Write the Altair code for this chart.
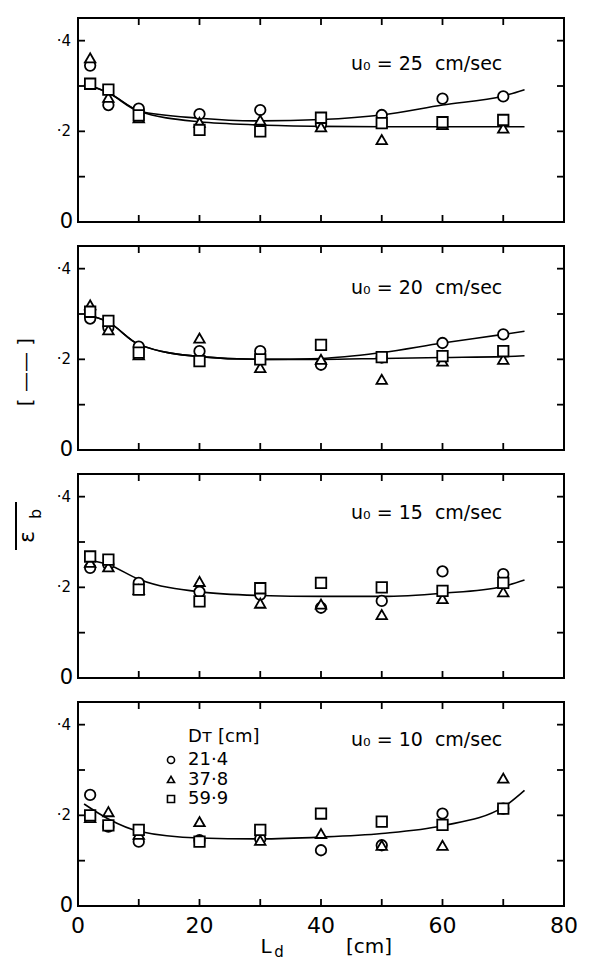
import altair as alt
import pandas as pd

FONT = "DejaVu Sans"

# ---------------- data ----------------
SERIES = ["21·4", "37·8", "59·9"]          # D_T [cm]
SHAPES = ["circle", "triangle-up", "square"]
LD = [2, 5, 10, 20, 30, 40, 50, 60, 70]    # L_d [cm]
U0 = [25, 20, 15, 10]                      # u0 [cm/sec]

# eps_b values, u0 = 25
E25_C = [0.345, 0.258, 0.250, 0.238, 0.247, 0.215, 0.236, 0.272, 0.277]
E25_T = [0.362, 0.275, 0.230, 0.220, 0.225, 0.210, 0.182, 0.215, 0.207]
E25_S = [0.305, 0.292, 0.235, 0.203, 0.200, 0.230, 0.218, 0.220, 0.225]
# u0 = 20
E20_C = [0.290, 0.270, 0.228, 0.218, 0.218, 0.188, 0.204, 0.236, 0.255]
E20_T = [0.320, 0.265, 0.210, 0.247, 0.182, 0.200, 0.156, 0.196, 0.200]
E20_S = [0.305, 0.285, 0.215, 0.196, 0.200, 0.232, 0.205, 0.207, 0.218]
# u0 = 15
E15_C = [0.243, 0.250, 0.210, 0.190, 0.184, 0.155, 0.170, 0.235, 0.229]
E15_T = [0.255, 0.245, 0.195, 0.213, 0.165, 0.163, 0.140, 0.175, 0.190]
E15_S = [0.268, 0.261, 0.195, 0.169, 0.198, 0.210, 0.200, 0.192, 0.210]
# u0 = 10
E10_C = [0.245, 0.175, 0.142, 0.145, 0.148, 0.123, 0.134, 0.204, 0.215]
E10_T = [0.195, 0.208, 0.158, 0.186, 0.145, 0.160, 0.134, 0.134, 0.282]
E10_S = [0.200, 0.178, 0.168, 0.142, 0.168, 0.204, 0.186, 0.179, 0.215]

# fitted curves
CURVE_LD = [1, 5, 10, 20, 30, 40, 50, 60, 70, 73.5]
C25_UP = [0.305, 0.285, 0.245, 0.229, 0.223, 0.226, 0.236, 0.258, 0.278, 0.292]
C25_LO = [0.305, 0.285, 0.245, 0.221, 0.214, 0.211, 0.210, 0.210, 0.210, 0.210]
C20_UP = [0.300, 0.282, 0.233, 0.206, 0.200, 0.202, 0.215, 0.236, 0.255, 0.262]
C20_LO = [0.300, 0.282, 0.233, 0.206, 0.200, 0.200, 0.202, 0.204, 0.206, 0.208]
C15 = [0.262, 0.250, 0.218, 0.190, 0.182, 0.180, 0.180, 0.187, 0.202, 0.216]
C10 = [0.225, 0.192, 0.165, 0.150, 0.148, 0.152, 0.160, 0.177, 0.218, 0.255]

# ticks and tick labels
X_INNER_TICKS = [10, 20, 30, 40, 50, 60, 70]
Y_INNER_TICKS = [0.1, 0.2, 0.3, 0.4]
X_LABEL_VALUES = [0, 20, 40, 60, 80]
X_LABEL_TEXT = ["0", "20", "40", "60", "80"]
Y_ZERO_VALUE = [0]
Y_ZERO_TEXT = ["0"]
Y_LABEL_VALUES = [0.2, 0.4]
Y_LABEL_TEXT = ["·2", "·4"]

X_DOMAIN = [0, 80]
Y_DOMAIN = [0, 0.45]
W, H = 486, 204
TL = 7  # inner tick length in pixels


def xs():
    return alt.Scale(domain=X_DOMAIN, nice=False, zero=False)


def ys():
    return alt.Scale(domain=Y_DOMAIN, nice=False, zero=False)


def text_layer(txt, x, y, size, angle=0, align="center"):
    return alt.Chart(pd.DataFrame({"t": [txt]})).mark_text(
        font=FONT, fontSize=size, color="black", angle=angle,
        align=align, baseline="middle").encode(
        text="t:N", x=alt.value(x), y=alt.value(y))


def tick_layer():
    # inner tick segments, drawn as two-point lines through the scales
    dx = TL / W * (X_DOMAIN[1] - X_DOMAIN[0])
    dy = TL / H * (Y_DOMAIN[1] - Y_DOMAIN[0])
    rows = []
    for v in X_INNER_TICKS:
        rows += [{"id": f"t{v}", "x": v, "y": Y_DOMAIN[1]},
                 {"id": f"t{v}", "x": v, "y": Y_DOMAIN[1] - dy},
                 {"id": f"b{v}", "x": v, "y": Y_DOMAIN[0]},
                 {"id": f"b{v}", "x": v, "y": Y_DOMAIN[0] + dy}]
    for v in Y_INNER_TICKS:
        rows += [{"id": f"l{v}", "x": X_DOMAIN[0], "y": v},
                 {"id": f"l{v}", "x": X_DOMAIN[0] + dx, "y": v},
                 {"id": f"r{v}", "x": X_DOMAIN[1] - dx, "y": v},
                 {"id": f"r{v}", "x": X_DOMAIN[1], "y": v}]
    return alt.Chart(pd.DataFrame(rows)).mark_line(
        color="black", strokeWidth=1.8, strokeCap="butt").encode(
        x=alt.X("x:Q", scale=xs(), axis=None),
        y=alt.Y("y:Q", scale=ys(), axis=None),
        detail="id:N")


def ylabel_layers():
    d0 = pd.DataFrame({"v": Y_ZERO_VALUE, "t": Y_ZERO_TEXT})
    d1 = pd.DataFrame({"v": Y_LABEL_VALUES, "t": Y_LABEL_TEXT})
    zero = alt.Chart(d0).mark_text(font=FONT, fontSize=21, color="black", align="right",
                                   baseline="middle").encode(
        y=alt.Y("v:Q", scale=ys(), axis=None), x=alt.value(-5), text="t:N")
    other = alt.Chart(d1).mark_text(font=FONT, fontSize=15, color="black", align="right",
                                    baseline="middle").encode(
        y=alt.Y("v:Q", scale=ys(), axis=None), x=alt.value(-7), text="t:N")
    return [zero, other]


def xlabel_layer():
    d = pd.DataFrame({"v": X_LABEL_VALUES, "t": X_LABEL_TEXT})
    return alt.Chart(d).mark_text(font=FONT, fontSize=22, color="black", align="center",
                                  baseline="middle").encode(
        x=alt.X("v:Q", scale=xs(), axis=None), y=alt.value(H + 20), text="t:N")


SHAPE_SCALE = alt.Scale(domain=SERIES, range=SHAPES)


def legend_layers():
    dl = pd.DataFrame({"D": SERIES})
    yoff = alt.YOffset("D:N", scale=alt.Scale(type="point", domain=SERIES, range=[0, 39], padding=0))
    sym = alt.Chart(dl).mark_point(filled=False, fill="white", fillOpacity=1, stroke="black",
                                   strokeWidth=1.6, opacity=1, size=50).encode(
        x=alt.value(93), y=alt.value(58), yOffset=yoff,
        shape=alt.Shape("D:N", scale=SHAPE_SCALE, legend=None))
    lab = alt.Chart(dl).mark_text(font=FONT, fontSize=18, color="black", align="left",
                                  baseline="middle").encode(
        x=alt.value(110), y=alt.value(58), yOffset=yoff, text="D:N")
    title = text_layer("Dᴛ [cm]", 110, 35, 18, align="left")
    return [title, sym, lab]


def panel(u0, pts, curves, text_y, last=False, extra=()):
    rows = []
    for s, vals in zip(SERIES, pts):
        for x, v in zip(LD, vals):
            rows.append({"L": x, "e": v, "D": s})
    dfp = pd.DataFrame(rows)
    crows = []
    for k, cv in enumerate(curves):
        for x, v in zip(CURVE_LD, cv):
            crows.append({"L": x, "e": v, "c": k})
    dfc = pd.DataFrame(crows)

    lines = alt.Chart(dfc).mark_line(color="black", strokeWidth=1.6,
                                     interpolate="monotone").encode(
        x=alt.X("L:Q", scale=xs(), axis=None),
        y=alt.Y("e:Q", scale=ys(), axis=None),
        detail="c:N")

    points = alt.Chart(dfp).mark_point(filled=False, fill="white", fillOpacity=1,
                                       stroke="black", strokeWidth=1.8, opacity=1,
                                       size=110).encode(
        x=alt.X("L:Q", scale=xs(), axis=None),
        y=alt.Y("e:Q", scale=ys(), axis=None),
        shape=alt.Shape("D:N", scale=SHAPE_SCALE, legend=None))

    label = text_layer(f"u₀ = {u0}\u00a0 cm/sec", 273, text_y, 19, align="left")
    layers = [tick_layer(), lines, points, label] + ylabel_layers() + list(extra)
    if last:
        layers += [xlabel_layer()] + legend_layers()
    return alt.layer(*layers).properties(width=W, height=H)


p1 = panel(U0[0], [E25_C, E25_T, E25_S], [C25_UP, C25_LO], 46)
p2 = panel(U0[1], [E20_C, E20_T, E20_S], [C20_UP, C20_LO], 42,
           extra=[text_layer("[\u00a0——\u00a0]", -52, 126, 20, angle=270)])
p3 = panel(U0[2], [E15_C, E15_T, E15_S], [C15], 39,
           extra=[text_layer("ε", -51, 63, 22, angle=270),
                  text_layer("b", -42, 40, 16, angle=270),
                  alt.Chart(pd.DataFrame({"a": [0]})).mark_rule(color="black", strokeWidth=2).encode(
                      x=alt.value(-62), y=alt.value(28), y2=alt.value(76))])
p4 = panel(U0[3], [E10_C, E10_T, E10_S], [C10], 38, last=True,
           extra=[text_layer("L", 188, 245, 20),
                  text_layer("d", 201, 250, 15),
                  text_layer("[cm]", 291, 245, 20)])

chart = alt.vconcat(p1, p2, p3, p4, spacing=24, bounds="flush").resolve_scale(
    shape="independent").properties(
    padding={"left": 6, "top": 5, "right": 8, "bottom": 0}
).configure_view(stroke="black", strokeWidth=2)

chart.save("out.html", embed_options={"renderer": "svg", "actions": False})
